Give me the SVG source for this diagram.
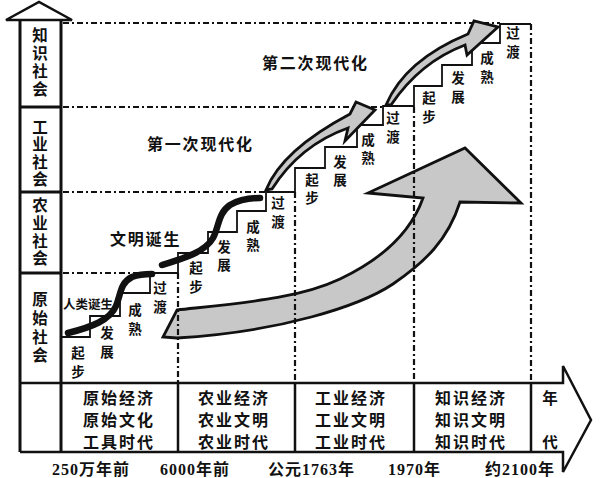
<svg xmlns="http://www.w3.org/2000/svg" width="601" height="478" viewBox="0 0 601 478">
<style>
text{font-family:"Liberation Serif","Noto Sans CJK SC",serif;fill:#111;dominant-baseline:central;font-weight:bold}
.ax{fill:none;stroke:#111;stroke-width:3}
.tb{fill:none;stroke:#111;stroke-width:2.5}
.dd{fill:none;stroke:#111;stroke-width:2.2;stroke-dasharray:6 3 2 3}
.st{fill:none;stroke:#111;stroke-width:1.8}
.thick{fill:none;stroke:#111;stroke-width:6.5;stroke-linecap:round}
.gray{fill:#c8c8c8;stroke:#111;stroke-width:2.8;stroke-linejoin:miter}
.lab{font-size:13.5px;text-anchor:middle}
.col{font-size:15.5px;text-anchor:middle}
.tbl{font-size:16px;letter-spacing:2px}
.ttl{font-size:16px;letter-spacing:1.8px}
.yr{font-size:16px;letter-spacing:1px}
</style>
<rect width="601" height="478" fill="#fff"/>

<g id="big-arrow">
<path class="gray" d="M177,310 C250,302 300,298 340,279 C380,260 410,235 423,198 L368,193 L465,148 L521,203 L460,202 C448,240 425,262 393,284 C360,306 280,332 177,338 L163,337 Z"/>
</g>

<g id="connectors">
<path class="dd" d="M63,23 H500"/>
<path class="dd" d="M63,107 H383"/>
<path class="dd" d="M63,192 H266"/>
<path class="dd" d="M63,273 H150"/>
<path class="dd" d="M178,273 V382"/>
<path class="dd" d="M295,192 V382"/>
<path class="dd" d="M414,107 V382"/>
<path class="dd" d="M531,24 V382"/>
</g>

<g id="axis">
<polygon points="6,20 39,2 72,20" fill="#fff" stroke="#111" stroke-width="2.5" stroke-linejoin="miter"/>
<path class="ax" d="M20,20 V452 M61,20 V452"/>
<path class="ax" d="M20,107 H61 M20,192 H61 M20,273 H61"/>
<text class="col" x="40" y="35">知</text><text class="col" x="40" y="53">识</text><text class="col" x="40" y="71">社</text><text class="col" x="40" y="89">会</text>
<text class="col" x="40" y="127">工</text><text class="col" x="40" y="144">业</text><text class="col" x="40" y="162">社</text><text class="col" x="40" y="179">会</text>
<text class="col" x="40" y="205">农</text><text class="col" x="40" y="223">业</text><text class="col" x="40" y="241">社</text><text class="col" x="40" y="258">会</text>
<text class="col" x="40" y="299">原</text><text class="col" x="40" y="318">始</text><text class="col" x="40" y="337">社</text><text class="col" x="40" y="355">会</text>
</g>

<g id="table">
<path class="tb" d="M20,383 H563 V366 L591,420 L563,472 V452 H20"/>
<path class="tb" d="M178,383 V452 M295,383 V452 M414,383 V452 M531,383 V452"/>
<text class="tbl" x="83" y="398">原始经济</text>
<text class="tbl" x="83" y="420">原始文化</text>
<text class="tbl" x="83" y="442">工具时代</text>
<text class="tbl" x="198" y="398">农业经济</text>
<text class="tbl" x="198" y="420">农业文明</text>
<text class="tbl" x="198" y="442">农业时代</text>
<text class="tbl" x="315" y="398">工业经济</text>
<text class="tbl" x="315" y="420">工业文明</text>
<text class="tbl" x="315" y="442">工业时代</text>
<text class="tbl" x="435" y="398">知识经济</text>
<text class="tbl" x="435" y="420">知识文明</text>
<text class="tbl" x="435" y="442">知识时代</text>
<text class="col" x="550" y="398">年</text>
<text class="col" x="550" y="442">代</text>
</g>

<g id="years">
<text class="yr" x="52" y="469">250万年前</text>
<text class="yr" x="160" y="469">6000年前</text>
<text class="yr" x="268" y="469">公元1763年</text>
<text class="yr" x="388" y="469">1970年</text>
<text class="yr" x="485" y="469">约2100年</text>
</g>

<g id="stage1">
<path class="st" d="M61,337 H90 V316 H120 V293 H150 V273 H178"/>
<path class="thick" d="M68,333 C92,327 110,320 116,306 C121,294 120,283 132,277 C140,274 147,274 152,274"/>
<text class="lab" x="78" y="353">起</text><text class="lab" x="78" y="372">步</text>
<text class="lab" x="107" y="333">发</text><text class="lab" x="107" y="352">展</text>
<text class="lab" x="135" y="310">成</text><text class="lab" x="135" y="329">熟</text>
<text class="lab" x="160" y="288">过</text><text class="lab" x="160" y="307">渡</text>
<text x="63" y="305" style="font-size:12.5px">人类诞生</text>
</g>

<g id="stage2">
<path class="st" d="M178,273 V253 H208 V232 H237 V211 H266 V192 H295"/>
<path class="thick" d="M162,265 C185,258 205,252 213,238 C219,227 218,213 230,205 C240,199 250,198 260,198"/>
<text class="lab" x="196" y="268">起</text><text class="lab" x="196" y="287">步</text>
<text class="lab" x="224" y="247">发</text><text class="lab" x="224" y="265">展</text>
<text class="lab" x="253" y="227">成</text><text class="lab" x="253" y="245">熟</text>
<text class="lab" x="278" y="203">过</text><text class="lab" x="278" y="222">渡</text>
<text class="ttl" x="110" y="239">文明诞生</text>
</g>

<g id="stage3">
<path class="st" d="M295,192 V168 H325 V147 H357 V125 H383 V106 H414"/>
<path class="gray" d="M266,190 Q282,150 350,114 L356,102 L375,110 L345,141 L348,128 Q300,145 272,189 Z"/>
<text class="lab" x="312" y="180">起</text><text class="lab" x="312" y="198">步</text>
<text class="lab" x="340" y="162">发</text><text class="lab" x="340" y="180">展</text>
<text class="lab" x="368" y="140">成</text><text class="lab" x="368" y="158">熟</text>
<text class="lab" x="393" y="118">过</text><text class="lab" x="393" y="137">渡</text>
<text class="ttl" x="147" y="144">第一次现代化</text>
</g>

<g id="stage4">
<path class="st" d="M414,107 V86 H442 V65 H472 V43 H500 V24 H531"/>
<path class="gray" d="M386,105 Q405,60 468,34 L474,21 L498,27 L467,55 L465,45 Q420,62 391,105 Z"/>
<text class="lab" x="429" y="98">起</text><text class="lab" x="429" y="117">步</text>
<text class="lab" x="458" y="78">发</text><text class="lab" x="458" y="97">展</text>
<text class="lab" x="487" y="58">成</text><text class="lab" x="487" y="77">熟</text>
<text class="lab" x="513" y="33">过</text><text class="lab" x="513" y="52">渡</text>
<text class="ttl" x="262" y="63">第二次现代化</text>
</g>
</svg>
